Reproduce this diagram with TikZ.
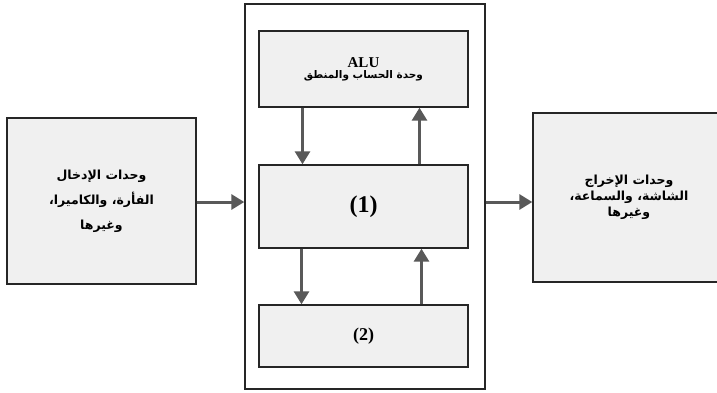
\documentclass[tikz,border=0pt]{standalone}
\usepackage{fontspec}
\setmainfont{Liberation Serif}
\newfontfamily\arabicfont[Script=Arabic]{DejaVu Sans}
\TeXXeTstate=1
\usetikzlibrary{arrows.meta}
\newcommand{\ar}[1]{\beginR #1\endR}

\begin{document}
\begin{tikzpicture}[x=1pt,y=-1pt,
  box/.style={draw=black!85,line width=1.4pt,fill=black!6,align=center,inner sep=0pt},
  arr/.style={draw=black!65,line width=3pt,-{Triangle[length=13pt,width=15pt]}}]
\useasboundingbox[fill=white] (0,0) rectangle (717,393);
\node[box,fill=white,minimum width=240,minimum height=385] (cpu) at (365,196.5) {};
\node[box,minimum width=189,minimum height=166,font=\arabicfont\bfseries\fontsize{12.5}{25}\selectfont] (in) at (101.5,201)
  {\ar{وحدات الإدخال}\\\ar{الفأرة، والكاميرا،}\\\ar{وغيرها}};
\node[box,minimum width=192,minimum height=169,font=\arabicfont\bfseries\fontsize{12.5}{16}\selectfont] (out) at (629,197.5)
  {\ar{وحدات الإخراج}\\\ar{الشاشة، والسماعة،}\\\ar{وغيرها}};
\node[box,minimum width=209,minimum height=76,font=\bfseries] (alu) at (363.5,69)
  {\fontsize{15}{15}\selectfont ALU\\[-1pt]\arabicfont\fontsize{10.5}{12}\selectfont\ar{وحدة الحساب والمنطق}};
\node[box,minimum width=209,minimum height=83,font=\bfseries\fontsize{24}{24}\selectfont] (one) at (363.5,206.5) {(1)};
\node[box,minimum width=209,minimum height=62,font=\bfseries\fontsize{18}{18}\selectfont] (two) at (363.5,336) {(2)};
% connectors
\draw[arr] (in.east |- 0,202) -- (cpu.west |- 0,202);
\draw[arr] (cpu.east |- 0,202) -- (out.west |- 0,202);
\draw[arr] ([xshift=-61pt]alu.south) -- ([xshift=-61pt]one.north);
\draw[arr] ([xshift=56pt]one.north) -- ([xshift=56pt]alu.south);
\draw[arr] ([xshift=-62pt]one.south) -- ([xshift=-62pt]two.north);
\draw[arr] ([xshift=58pt]two.north) -- ([xshift=58pt]one.south);
\end{tikzpicture}
\end{document}
